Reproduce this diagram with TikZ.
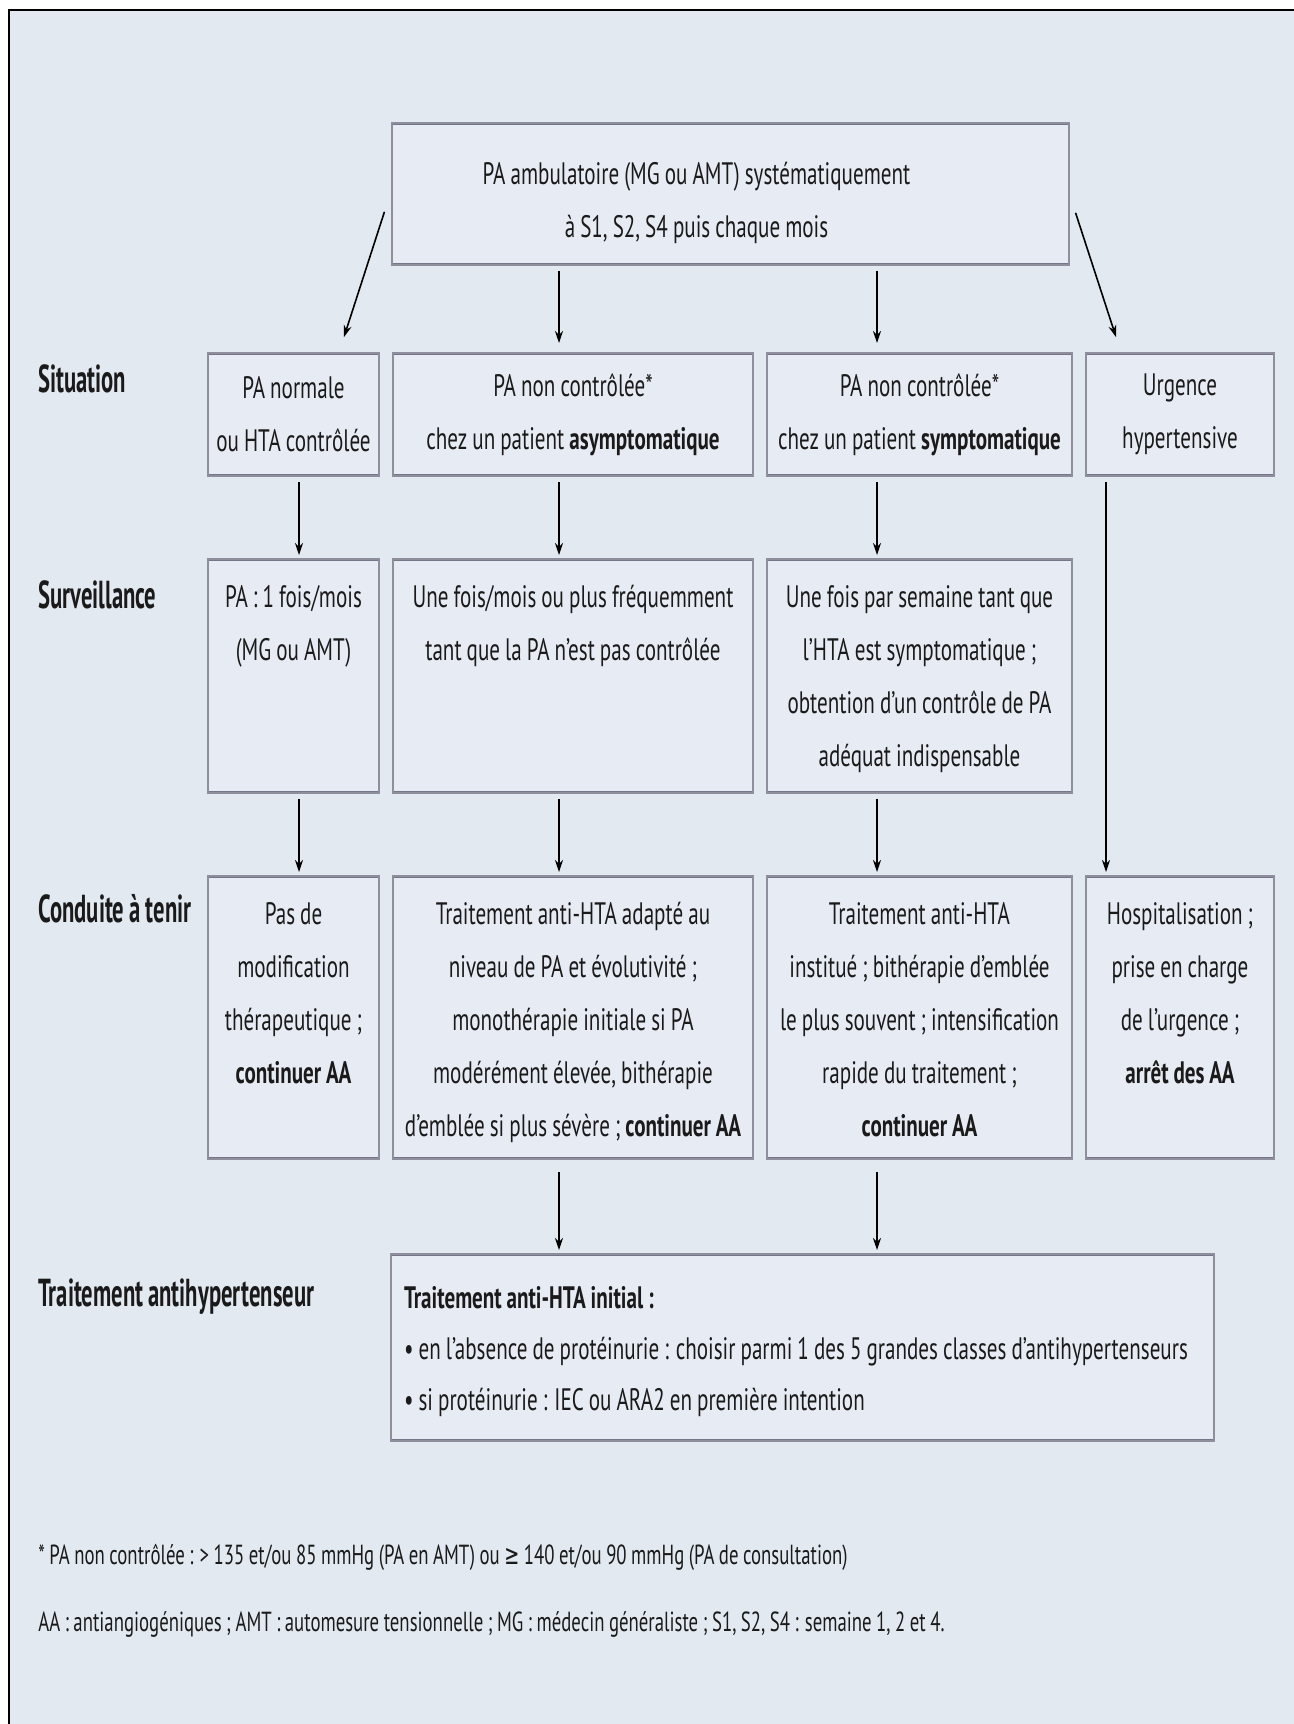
\documentclass[tikz,border=0pt]{standalone}
\usepackage{fontspec}
\setmainfont{PT Sans}[FakeStretch=0.68, WordSpace=0.9]
\newfontfamily\labelfont{PT Sans}[FakeStretch=0.58, WordSpace=0.9]
\newfontfamily\symfont{DejaVu Sans}[FakeStretch=0.65]
\usetikzlibrary{arrows.meta, calc}

\definecolor{pagebg}{HTML}{E3E9F1}
\definecolor{boxfill}{HTML}{E7ECF4}
\definecolor{boxline}{HTML}{8E8E9C}
\definecolor{boxedge}{HTML}{76768A}
\definecolor{ink}{HTML}{1A1A1A}

\tikzset{
    box/.style={draw=boxline, line width=1pt, fill=boxfill, inner sep=0pt, align=flush center,
        text=ink, font=\fontsize{15.5}{26.5}\selectfont,
        execute at begin node={\spaceskip=0pt\xspaceskip=0pt\relax},
        path picture={\draw[boxedge, line width=2pt]
            (path picture bounding box.north west) -- (path picture bounding box.north east)
            (path picture bounding box.south west) -- (path picture bounding box.south east);}},
    sitbox/.style={box, anchor=north west, minimum height=61.5pt},
    tallbox/.style={box, anchor=north west, text height=24pt, text depth=#1},
    rowlabel/.style={anchor=base west, inner sep=0pt, text=ink, font=\labelfont\bfseries\fontsize{19.5}{22}\selectfont},
    footnote/.style={anchor=base west, inner sep=0pt, text=ink, font=\fontsize{13.8}{17}\selectfont},
    flow/.style={-{Stealth[length=6pt, width=4pt]}, line width=0.8pt, shorten <=2.5pt, shorten >=1.5pt}
}

\begin{document}
\begin{tikzpicture}[x=0.5pt, y=-0.5pt]
    \useasboundingbox (0,0) rectangle (1294,1724);
    \fill[pagebg] (9,10) rectangle (1294,1724);
    \draw[line width=1.2pt] (9,1724) -- (9,10) -- (1294,10);

    % arrow columns
    \coordinate (c1) at (299,0);
    \coordinate (c2) at (559,0);
    \coordinate (c3) at (877,0);
    \coordinate (c4) at (1106,0);

    % top (text sits left of the box centre)
    \node[tallbox=40.5pt, text width=338.5pt, text height=30.5pt] (top) at (391,122)
        {PA ambulatoire (MG ou AMT) systématiquement\makebox[34pt]{}\\à S1, S2, S4 puis chaque mois\makebox[34pt]{}};

    % situation
    \node[rowlabel] (lsit) at (38,392) {Situation};
    \node[sitbox, text width=85.5pt] (s1) at (207,352) {PA normale\\ou HTA contrôlée};
    \node[sitbox, text width=180pt] (s2) at (392,352) {PA non contrôlée*\\chez un patient \textbf{asymptomatique}};
    \node[sitbox, text width=152.5pt] (s3) at (766,352) {PA non contrôlée*\\chez un patient \textbf{symptomatique}};
    \node[sitbox, text width=94pt] (s4) at (1085,352) {Urgence\\hypertensive};

    % surveillance
    \node[rowlabel] (lsurv) at (38,608) {Surveillance};
    \node[tallbox=93pt, text width=85.5pt] (v1) at (207,558) {PA : 1 fois/mois\\(MG ou AMT)};
    \node[tallbox=93pt, text width=180pt] (v2) at (392,558) {Une fois/mois ou plus fréquemment\\tant que la PA n’est pas contrôlée};
    \node[tallbox=93pt, text width=152.5pt] (v3) at (766,558)
        {Une fois par semaine tant que\\l’HTA est symptomatique ;\\obtention d’un contrôle de PA\\adéquat indispensable};

    % conduite a tenir
    \node[rowlabel] (lcond) at (38,922) {Conduite à tenir};
    \node[tallbox=117.5pt, text width=85.5pt] (t1) at (207,875)
        {Pas de\\modification\\thérapeutique ;\\\textbf{continuer AA}};
    \node[tallbox=117.5pt, text width=180pt] (t2) at (392,875)
        {Traitement anti-HTA adapté au\\niveau de PA et évolutivité ;\\monothérapie initiale si PA\\modérément élevée, bithérapie\\d’emblée si plus sévère ; \textbf{continuer AA}};
    \node[tallbox=117.5pt, text width=152.5pt] (t3) at (766,875)
        {Traitement anti-HTA\\institué ; bithérapie d’emblée\\le plus souvent ; intensification\\rapide du traitement ;\\\textbf{continuer AA}};
    \node[tallbox=117.5pt, text width=94pt] (t4) at (1085,875)
        {Hospitalisation ;\\prise en charge\\de l’urgence ;\\\textbf{arrêt des AA}};

    % traitement
    \node[rowlabel] (ltrt) at (38,1306) {Traitement antihypertenseur};
    \node[box, anchor=north west, align=flush left, inner xsep=6.5pt, text width=398.5pt,
        text height=27pt, text depth=66.5pt, font=\fontsize{15.5}{25.5}\selectfont] (trt) at (390,1253)
        {\textbf{Traitement anti-HTA initial :}\\
         • en l’absence de protéinurie : choisir parmi 1 des 5 grandes classes d’antihypertenseurs\\
         • si protéinurie : IEC ou ARA2 en première intention};

    % notes
    \node[footnote] (n1) at (38,1564)
        {* PA non contrôlée : > 135 et/ou 85 mmHg (PA en AMT) ou {\symfont ≥} 140 et/ou 90 mmHg (PA de consultation)};
    \node[footnote] (n2) at (38,1631)
        {AA : antiangiogéniques ; AMT : automesure tensionnelle ; MG : médecin généraliste ; S1, S2, S4 : semaine 1, 2 et 4.};

    % arrows
    \draw[flow] ([xshift=-2.5pt, yshift=-6.5pt]top.west) -- ([xshift=24.75pt, yshift=6pt]s1.north);
    \draw[flow] ([xshift=2pt, yshift=-7pt]top.east) -- ([xshift=-31.5pt, yshift=6pt]s4.north);
    \draw[flow, shorten >=4.5pt] (top.south -| c2) -- (s2.north -| c2);
    \draw[flow, shorten >=4.5pt] (top.south -| c3) -- (s3.north -| c3);
    \draw[flow] (s1.south -| c1) -- (v1.north -| c1);
    \draw[flow] (s2.south -| c2) -- (v2.north -| c2);
    \draw[flow] (s3.south -| c3) -- (v3.north -| c3);
    \draw[flow] (v1.south -| c1) -- (t1.north -| c1);
    \draw[flow] (v2.south -| c2) -- (t2.north -| c2);
    \draw[flow] (v3.south -| c3) -- (t3.north -| c3);
    \draw[flow] (s4.south -| c4) -- (t4.north -| c4);
    \draw[flow, shorten <=6pt] (t2.south -| c2) -- (trt.north -| c2);
    \draw[flow, shorten <=6pt] (t3.south -| c3) -- (trt.north -| c3);
\end{tikzpicture}
\end{document}
